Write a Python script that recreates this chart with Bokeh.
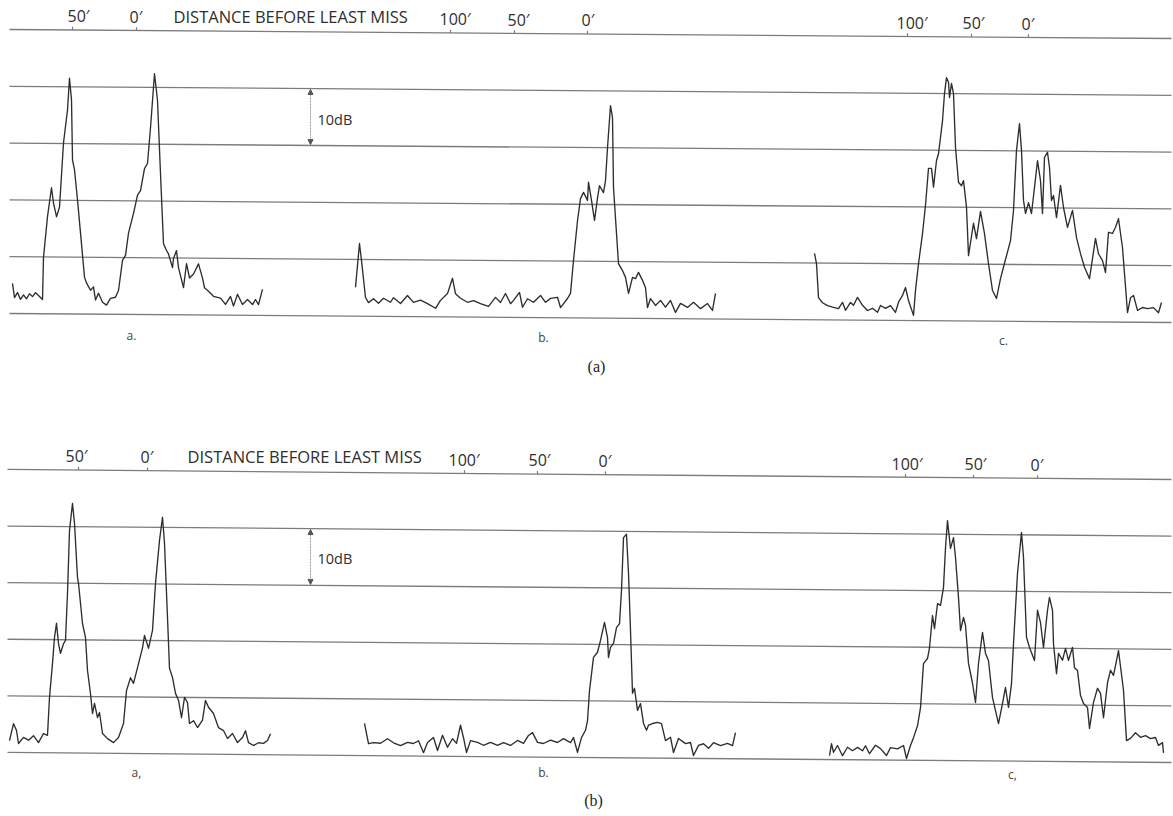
from bokeh.plotting import figure
from bokeh.layouts import column
from bokeh.models import Range1d, Arrow, NormalHead
from bokeh.core.properties import value
from bokeh.embed import file_html
from bokeh.resources import INLINE

# ---------------- data ----------------
# grid levels (dB), the top one carries the distance scale
levels = [0, 10, 20, 30, 40, 50]

# traces: (chart x, level in dB above the bottom line)
pa_trace_a = [(12,5.3),(14,2.8),(17,3.7),(20,2.5),(23,3.3),(26,2.6),(29,3.5),(32,3.0),(35,3.7),(38,3.2),
              (42,2.5),(43,9.9),(47,17.1),(51,22.2),(53,19.5),(56,17.1),(59,18.8),(63,30.1),(67,35.9),(69,41.5),
              (71,37.7),(72,27.1),(74,25.4),(77,20.1),(80,14.3),(84,6.5),(86,5.5),(90,4.2),(93,4.8),(95,2.5),
              (98,3.7),(102,2.1),(106,1.6),(110,2.8),(115,3.0),(118,4.2),(122,9.5),(125,10.4),(128,14.3),(133,17.8),
              (137,21.0),(140,21.8),(144,25.7),(147,26.6),(150,32.9),(154,42.4),(157,37.7),(160,24.8),(163,12.5),(166,11.3),
              (168,10.7),(172,8.3),(173,9.9),(176,11.3),(178,8.3),(183,4.8),(186,9.0),(189,6.5),(193,7.2),(198,9.0),
              (202,6.5),(204,4.8),(208,4.2),(213,3.3),(220,3.0),(225,1.9),(230,3.3),(233,1.6),(237,3.7),(242,1.9),
              (247,2.8),(252,1.9),(255,2.8),(258,1.9),(262,4.6)]
pa_trace_b = [(355,5.1),(359,12.8),(361,9.8),(365,3.3),(368,2.4),(373,3.1),(378,2.3),(383,3.2),(390,2.5),(393,3.3),
              (400,2.3),(407,3.7),(413,2.5),(420,2.9),(427,2.3),(435,1.5),(440,2.9),(447,4.1),(452,6.8),(455,4.1),
              (460,3.3),(467,2.6),(473,2.9),(480,2.4),(488,1.9),(495,3.5),(500,2.6),(505,4.2),(510,2.4),(513,3.0),
              (519,4.4),(522,1.8),(527,3.3),(533,2.7),(540,3.9),(545,2.7),(550,3.4),(557,3.6),(560,1.8),(567,3.4),
              (570,4.3),(573,10.1),(577,17.1),(580,21.0),(583,22.1),(587,20.7),(588,23.9),(591,20.7),(594,17.2),(597,21.1),
              (599,23.3),(603,22.1),(605,24.2),(607,30.0),(610,37.4),(612,35.3),(613,23.0),(616,14.9),(618,9.6),(622,8.4),
              (625,7.2),(628,4.4),(632,7.2),(635,7.0),(638,8.1),(642,6.7),(645,5.4),(647,1.9),(650,3.5),(655,2.3),
              (660,3.2),(665,2.0),(670,3.2),(675,1.1),(680,2.7),(687,2.0),(693,2.9),(700,1.8),(707,2.7),(712,1.5),(715,4.5)]
pa_trace_c = [(814,11.7),(816,9.9),(818,3.9),(822,3.0),(827,2.5),(833,2.2),(838,2.0),(842,3.1),(845,1.7),(850,3.1),
              (853,2.6),(857,4.0),(862,2.6),(867,1.7),(872,2.1),(877,1.4),(880,2.6),(885,2.1),(890,2.6),(895,1.4),
              (898,3.2),(902,4.4),(905,5.8),(908,3.5),(913,0.9),(915,5.3),(918,10.0),(922,15.3),(925,20.3),(928,26.8),
              (931,26.8),(933,23.5),(936,28.2),(938,29.4),(942,35.2),(944,40.0),(946,42.8),(948,42.0),(949,39.3),(951,41.8),
              (953,40.0),(955,30.5),(958,24.4),(961,23.8),(963,24.7),(966,20.0),(968,11.5),(973,17.2),(976,14.5),(980,19.3),
              (984,15.4),(988,10.1),(992,5.4),(996,4.0),(1000,7.5),(1004,10.2),(1010,14.2),(1013,19.5),(1016,30.1),(1019,34.8),
              (1021,30.1),(1023,21.3),(1025,19.0),(1028,20.9),(1031,19.0),(1034,23.6),(1037,28.3),(1040,24.8),(1042,19.0),(1044,28.9),
              (1047,29.8),(1049,27.1),(1051,21.3),(1053,22.2),(1056,18.3),(1060,24.0),(1063,20.1),(1067,16.6),(1072,19.6),(1076,14.8),
              (1080,12.0),(1084,9.6),(1089,7.6),(1095,14.7),(1098,12.0),(1102,10.8),(1105,8.7),(1108,15.8),(1112,15.6),(1115,16.7),
              (1118,18.2),(1122,13.1),(1127,1.7),(1130,4.3),(1133,4.7),(1137,2.1),(1142,2.6),(1147,2.4),(1153,2.6),(1158,1.7),(1161,3.5)]

pb_trace_a = [(9,2.1),(13,5.1),(16,3.9),(18,1.6),(23,2.7),(28,2.2),(33,3.0),(38,1.8),(43,3.4),(47,3.1),
              (49,9.8),(52,15.8),(54,20.4),(56,22.9),(58,19.3),(60,17.6),(63,19.3),(65,19.9),(67,28.2),(69,39.3),
              (72,44.1),(74,40.6),(77,31.0),(78,30.0),(82,22.9),(85,20.4),(87,14.6),(90,10.5),(92,7.0),(94,8.8),
              (97,6.3),(99,7.2),(102,3.5),(107,2.6),(113,1.9),(118,2.8),(123,5.3),(126,11.1),(130,13.4),(133,12.4),
              (137,15.2),(142,18.7),(144,20.9),(148,18.6),(152,21.8),(155,30.1),(159,37.7),(162,41.8),(164,37.2),(167,24.1),
              (169,15.1),(172,13.5),(175,10.7),(178,9.5),(181,6.4),(184,10.0),(187,9.1),(189,5.4),(193,5.9),(197,4.7),
              (202,6.0),(205,9.5),(208,8.3),(213,7.2),(218,4.7),(223,4.2),(227,2.8),(232,3.7),(237,2.1),(242,3.0),
              (245,4.2),(248,2.1),(253,1.6),(258,2.1),(263,2.0),(267,2.5),(270,3.7)]
pb_trace_b = [(364,5.7),(368,2.1),(373,2.3),(380,2.2),(387,3.0),(393,2.3),(400,1.8),(407,2.4),(413,2.2),(418,2.7),
              (423,0.6),(427,2.4),(433,3.3),(437,1.0),(442,3.7),(447,1.6),(452,3.1),(456,2.3),(460,5.5),(463,3.3),
              (466,0.7),(470,2.8),(477,2.5),(483,2.0),(490,2.5),(497,2.0),(503,2.5),(510,2.0),(517,2.9),(523,2.4),
              (528,3.8),(532,4.3),(537,2.6),(543,2.4),(550,3.0),(557,2.6),(563,3.3),(570,2.6),(573,3.5),(577,0.9),
              (581,3.5),(585,4.8),(587,6.5),(589,11.8),(593,17.7),(597,18.6),(600,20.7),(604,23.9),(607,21.2),(608,17.7),
              (610,19.5),(613,20.2),(616,23.0),(619,23.7),(621,29.6),(623,38.9),(626,39.5),(628,32.6),(630,22.5),(632,11.4),
              (634,12.3),(637,8.4),(640,9.6),(643,6.1),(646,4.9),(648,5.8),(652,6.1),(657,6.3),(661,6.1),(665,3.1),
              (670,3.7),(673,1.0),(678,3.5),(685,2.6),(690,2.8),(693,0.5),(698,2.3),(703,2.6),(708,1.8),(713,2.8),
              (720,2.3),(727,2.7),(732,2.3),(735,4.6)]
pb_trace_c = [(829,0.7),(831,2.8),(833,1.3),(837,2.5),(842,0.7),(847,2.2),(852,1.6),(857,2.2),(862,1.6),(865,2.5),
              (869,1.1),(875,2.6),(880,2.0),(886,0.8),(890,2.2),(897,2.0),(903,2.6),(906,0.3),(910,2.6),(913,4.0),
              (917,6.1),(920,9.3),(923,17.1),(927,18.0),(929,19.9),(932,25.6),(934,23.3),(937,27.7),(940,27.4),(943,30.6),
              (945,37.6),(947,42.4),(950,37.5),(953,39.4),(955,35.9),(958,28.8),(960,23.0),(963,25.3),(965,23.9),(968,17.2),
              (972,13.7),(975,10.3),(978,17.2),(982,22.7),(985,19.0),(988,17.7),(992,11.2),(995,8.9),(998,6.6),(1002,10.2),
              (1005,13.0),(1008,9.5),(1011,13.7),(1013,20.8),(1017,33.2),(1021,40.4),(1023,36.0),(1026,21.9),(1029,20.1),(1034,17.8),
              (1037,26.7),(1040,24.5),(1043,20.1),(1047,26.7),(1049,29.0),(1052,26.7),(1053,20.8),(1056,15.5),(1058,19.1),(1062,17.9),
              (1065,20.0),(1068,17.9),(1072,20.2),(1074,16.6),(1077,16.1),(1080,11.7),(1083,10.3),(1087,9.6),(1089,5.9),(1093,10.5),
              (1097,13.0),(1100,12.1),(1103,7.8),(1107,14.0),(1110,16.2),(1113,15.3),(1118,19.7),(1123,12.7),(1126,3.8),(1130,4.2),
              (1135,5.2),(1140,4.4),(1145,4.7),(1150,4.2),(1155,4.4),(1158,3.0),(1162,3.5),(1163,1.7)]

# distance scale ("distance before least miss")
dist_labels = ["50′", "0′", "100′", "50′", "0′", "100′", "50′", "0′"]
pa_dist_tick_x = [72, 136, 450, 514, 587, 907, 971, 1028]
pa_dist_text_x = [67, 129, 439, 507, 581, 896, 962, 1021]
pb_dist_tick_x = [78, 147, 464, 537, 605, 905, 973, 1037]
pb_dist_text_x = [65, 140, 448, 528, 598, 891, 964, 1030]
scale_title = "DISTANCE BEFORE LEAST MISS"
sub_labels_a = ["a.", "b.", "c."]
sub_labels_b = ["a,", "b.", "c,"]

# ---------------- drawing ----------------
W = 1173
H = 408
X0, X1 = 0, 1173
GRID = "#7c7c7c"
INK = "#2e2e2e"
FONT = value("Open Sans")


def make_panel(traces, tick_x, text_x, title_x, sub_labels, sub_xy, caption, cap_xy,
               ymin, ymax, tilt_db, arrow_x, db_text_y, x_left):
    p = figure(width=W, height=H, x_range=Range1d(X0, X1), y_range=Range1d(ymin, ymax),
               output_backend="svg", toolbar_location=None, min_border=0)
    p.axis.visible = False
    p.grid.visible = False
    p.outline_line_color = None
    p.background_fill_color = "white"
    p.border_fill_color = "white"

    def t(x):
        return tilt_db * (x - 10) / 1160.0

    for lv in levels:
        xs = [x_left, 1171]
        p.line(xs, [lv - t(xs[0]), lv - t(xs[1])], line_color=GRID, line_width=1.3)

    for tr in traces:
        xs = [q[0] for q in tr]
        ys = [q[1] - t(q[0]) for q in tr]
        p.line(xs, ys, line_color=INK, line_width=1.35, line_join="round")

    top = levels[-1]
    # distance ticks and labels
    p.segment(x0=tick_x, y0=[top - t(x) for x in tick_x], x1=tick_x,
              y1=[top - t(x) + 0.55 for x in tick_x], line_color=GRID, line_width=1.2)
    p.text(x=text_x, y=[top - t(x) + 0.45 for x in text_x], text=dist_labels,
           text_font=FONT, text_font_size="16px", text_color=INK,
           text_align="left", text_baseline="bottom")
    p.text(x=[title_x], y=[top - t(title_x) + 0.45], text=[scale_title],
           text_font=FONT, text_font_size="16.5px", text_color=INK,
           text_align="left", text_baseline="bottom")

    # 10 dB marker
    y_hi = levels[4] - t(arrow_x)
    y_lo = levels[3] - t(arrow_x)
    p.add_layout(Arrow(start=NormalHead(size=5, fill_color="#555", line_color="#555"),
                       end=NormalHead(size=5, fill_color="#555", line_color="#555"),
                       x_start=arrow_x, y_start=y_lo + 0.15, x_end=arrow_x, y_end=y_hi - 0.15,
                       line_color="#999", line_width=1, line_dash="2 1"))
    p.text(x=[arrow_x + 7], y=[db_text_y], text=["10dB"], text_font=FONT,
           text_font_size="14.5px", text_color=INK, text_align="left", text_baseline="middle")

    p.text(x=[q[0] for q in sub_xy], y=[q[1] for q in sub_xy], text=sub_labels,
           text_font=FONT, text_font_size="12px", text_color="#444",
           text_align="center", text_baseline="middle")
    p.text(x=[cap_xy[0]], y=[cap_xy[1]], text=[caption], text_font=value("Liberation Serif"),
           text_font_size="16px", text_color="#222", text_align="center", text_baseline="middle")
    return p


# panel (a): bottom line at 313 px from the top of the page, 5.68 px per dB
pa = make_panel([pa_trace_a, pa_trace_b, pa_trace_c], pa_dist_tick_x, pa_dist_text_x, 173,
                sub_labels_a, [(131, -3.9), (543, -4.2), (1003, -4.75)], "(a)", (596, -9.3),
                (313 - H) / 5.68, 313 / 5.68, 9 / 5.68, 310, 34.1, 9)
# panel (b): bottom line at 752 px (344 px below the panel top), 5.66 px per dB
pb = make_panel([pb_trace_a, pb_trace_b, pb_trace_c], pb_dist_tick_x, pb_dist_text_x, 187,
                sub_labels_b, [(136, -3.5), (543, -3.5), (1012, -3.9)], "(b)", (593, -8.4),
                (344 - H) / 5.66, 344 / 5.66, 10 / 5.66, 310, 34.2, 7)

layout = column(pa, pb, spacing=0)
open("out.html", "w").write(file_html(layout, INLINE))
